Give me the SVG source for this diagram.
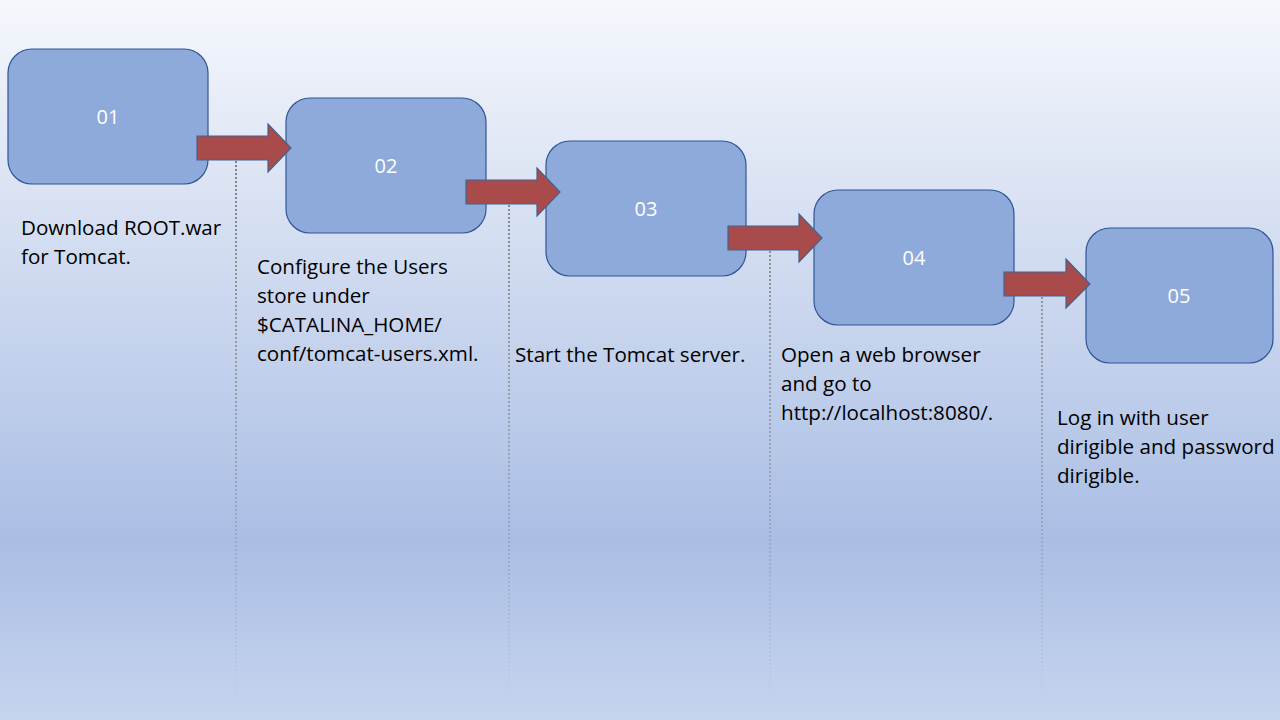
<svg xmlns="http://www.w3.org/2000/svg" width="1280" height="720" viewBox="0 0 1280 720">
<defs>
<linearGradient id="bg" x1="0" y1="0" x2="0" y2="1">
<stop offset="0" stop-color="#f5f7fc"/>
<stop offset="0.75" stop-color="#aabee4"/>
<stop offset="1" stop-color="#c6d4ee"/>
</linearGradient>
<linearGradient id="dl" gradientUnits="userSpaceOnUse" x1="0" y1="150" x2="0" y2="710">
<stop offset="0" stop-color="#7f7f7f" stop-opacity="1"/>
<stop offset="0.6" stop-color="#7f7f7f" stop-opacity="0.45"/>
<stop offset="1" stop-color="#7f7f7f" stop-opacity="0"/>
</linearGradient>
<path id="arr" d="M0,-12 H71 V-24 L94,0 L71,24 V12 H0 Z"/>
</defs>
<style>
.box{fill:#8eaadb;stroke:#2f5597;stroke-width:1.2}
.lbl{font-family:"Open Sans",sans-serif;font-size:20px;fill:#ffffff;text-anchor:middle}
.txt{font-family:"Open Sans",sans-serif;font-size:20.6px;fill:#000000}
.arrow{fill:#a84b4a;stroke:#44608f;stroke-width:1.2}
.dot{stroke:url(#dl);stroke-width:2;stroke-dasharray:2,2;fill:none}
</style>
<rect width="1280" height="720" fill="url(#bg)"/>
<g id="step1">
<rect class="box" x="8" y="49" width="200" height="135" rx="24"/>
<text class="lbl" x="108" y="124">01</text>
<text class="txt" x="21" y="235">Download ROOT.war</text>
<text class="txt" x="21" y="264">for Tomcat.</text>
</g>
<g id="step2">
<rect class="box" x="286" y="98" width="200" height="135" rx="24"/>
<text class="lbl" x="386" y="173">02</text>
<text class="txt" x="257" y="274">Configure the Users</text>
<text class="txt" x="257" y="303">store under</text>
<text class="txt" x="257" y="332">$CATALINA_HOME/</text>
<text class="txt" x="257" y="361">conf/tomcat-users.xml.</text>
</g>
<g id="step3">
<rect class="box" x="546" y="141" width="200" height="135" rx="24"/>
<text class="lbl" x="646" y="216">03</text>
<text class="txt" x="515" y="362">Start the Tomcat server.</text>
</g>
<g id="step4">
<rect class="box" x="814" y="190" width="200" height="135" rx="24"/>
<text class="lbl" x="914" y="265">04</text>
<text class="txt" x="781" y="362">Open a web browser</text>
<text class="txt" x="781" y="391">and go to</text>
<text class="txt" x="781" y="420">http://localhost:8080/.</text>
</g>
<g id="step5">
<rect class="box" x="1086" y="228" width="187" height="135" rx="24"/>
<text class="lbl" x="1179" y="303">05</text>
<text class="txt" x="1057" y="425">Log in with user</text>
<text class="txt" x="1057" y="454">dirigible and password</text>
<text class="txt" x="1057" y="483">dirigible.</text>
</g>
<g id="connectors">
<line class="dot" x1="236" y1="161" x2="236" y2="700"/>
<line class="dot" x1="509" y1="205" x2="509" y2="700"/>
<line class="dot" x1="770" y1="251" x2="770" y2="700"/>
<line class="dot" x1="1042" y1="297" x2="1042" y2="700"/>
<use href="#arr" class="arrow" transform="translate(197,148)"/>
<use href="#arr" class="arrow" transform="translate(466,192)"/>
<use href="#arr" class="arrow" transform="translate(728,238)"/>
<path class="arrow" d="M1004,272 H1066 V259 L1090,284 L1066,308 V296 H1004 Z"/>
</g>
</svg>
